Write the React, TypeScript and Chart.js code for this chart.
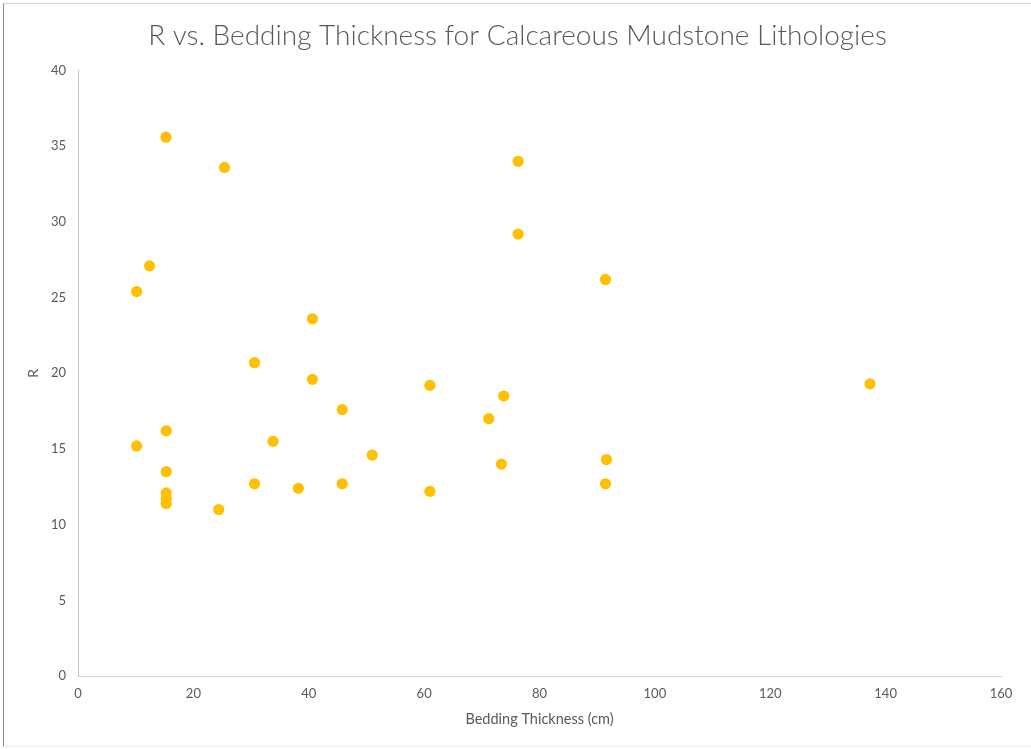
import React, { useEffect, useRef } from "react";
import { Chart, registerables } from "chart.js";

Chart.register(...registerables);

// Bedding thickness (cm) and R value for each measured bed
const thicknessCm: number[] = [
  15.24, 25.4, 76.3, 76.3, 12.4, 10.16, 91.44, 40.64, 30.6, 40.64, 61.0,
  137.3, 73.8, 45.8, 71.2, 15.3, 10.16, 33.8, 51.0, 91.6, 73.4, 15.3,
  30.6, 38.2, 45.8, 61.0, 91.44, 15.3, 15.3, 15.3, 24.4,
];
const rValues: number[] = [
  35.6, 33.6, 34.0, 29.2, 27.1, 25.4, 26.2, 23.6, 20.7, 19.6, 19.2, 19.3, 18.5,
  17.6, 17.0, 16.2, 15.2, 15.5, 14.6, 14.3, 14.0, 13.5, 12.7, 12.4, 12.7, 12.2,
  12.7, 12.1, 11.7, 11.4, 11.0,
];

const xTickValues: number[] = [0, 20, 40, 60, 80, 100, 120, 140, 160];
const yTickValues: number[] = [0, 5, 10, 15, 20, 25, 30, 35, 40];

const chartTitle = "R vs. Bedding Thickness for Calcareous Mudstone Lithologies";
const xAxisTitle = "Bedding Thickness (cm)";
const yAxisTitle = "R";

const FONT = "Lato, 'Open Sans', sans-serif";
const TEXT = "#595959";

export default function App() {
  const canvasRef = useRef<HTMLCanvasElement | null>(null);

  useEffect(() => {
    document.body.style.margin = "0";
    const canvas = canvasRef.current;
    if (!canvas) return;

    const points = thicknessCm.map((x, i) => ({ x, y: rValues[i] }));

    const chart = new Chart(canvas, {
      type: "scatter",
      data: {
        datasets: [
          {
            label: "R",
            data: points,
            backgroundColor: "#FFC000",
            borderWidth: 0,
            pointRadius: 5.6,
            pointHoverRadius: 5.6,
          },
        ],
      },
      options: {
        animation: false,
        responsive: false,
        maintainAspectRatio: false,
        layout: { padding: { left: 34, right: 30, top: 0, bottom: 0 } },
        plugins: {
          legend: { display: false },
          tooltip: { enabled: false },
          title: {
            display: true,
            text: chartTitle,
            color: TEXT,
            font: { family: FONT, size: 28, weight: "300", lineHeight: 1.2 },
            padding: { top: 19, bottom: 18 },
          },
        },
        scales: {
          x: {
            type: "linear",
            min: 0,
            max: 160,
            afterBuildTicks: (scale: any) => {
              scale.ticks = xTickValues.map((v) => ({ value: v }));
            },
            afterFit: (scale: any) => {
              scale.height = 73;
            },
            grid: { display: false, drawTicks: false },
            border: { display: true, color: "#d0d0d0", width: 1 },
            ticks: {
              color: TEXT,
              font: { family: FONT, size: 13 },
              padding: 10,
              maxRotation: 0,
            },
            title: {
              display: true,
              text: xAxisTitle,
              color: TEXT,
              font: { family: FONT, size: 14.5 },
              padding: { top: 0, bottom: 21 },
            },
          },
          y: {
            type: "linear",
            min: 0,
            max: 40,
            afterBuildTicks: (scale: any) => {
              scale.ticks = yTickValues.map((v) => ({ value: v }));
            },
            afterFit: (scale: any) => {
              scale.width = 44;
            },
            grid: { display: false, drawTicks: false },
            border: { display: true, color: "#c4c4c4", width: 1 },
            ticks: {
              color: TEXT,
              font: { family: FONT, size: 13 },
              padding: 12,
            },
            title: {
              display: true,
              text: yAxisTitle,
              color: TEXT,
              font: { family: FONT, size: 14 },
              padding: { top: -9, bottom: 0 },
            },
          },
        },
      },
    });

    return () => chart.destroy();
  }, []);

  return (
    <div style={{ position: "relative", width: 1031, height: 749, background: "#fff" }}>
      <canvas
        ref={canvasRef}
        width={1031}
        height={749}
        style={{ position: "absolute", left: 0, top: 0, width: 1031, height: 749 }}
      />
      <div
        style={{
          position: "absolute",
          left: 3,
          top: 3,
          right: 0,
          bottom: 2,
          borderLeft: "1px solid #8c8c8c",
          borderTop: "1px solid #d4d4d4",
          borderBottom: "1px solid #ececec",
          pointerEvents: "none",
        }}
      />
    </div>
  );
}
